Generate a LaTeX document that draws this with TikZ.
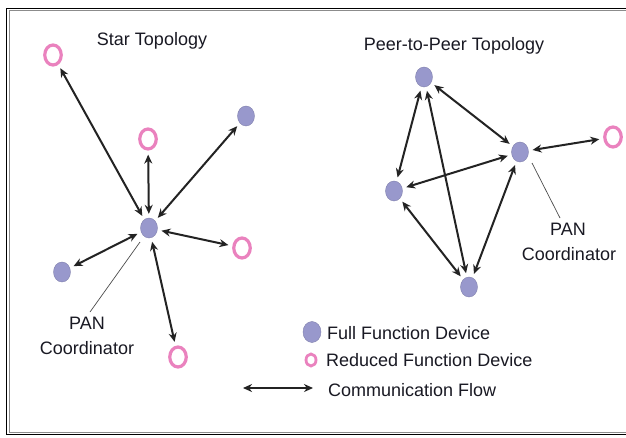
\documentclass[tikz,border=0pt]{standalone}
\usepackage{fontspec}
\setmainfont{Liberation Sans}
\usetikzlibrary{shapes.geometric,arrows.meta}
\definecolor{ffdblue}{RGB}{152,152,204}
\definecolor{rfdpink}{RGB}{234,130,190}
\definecolor{txt}{RGB}{25,25,35}
\definecolor{arr}{RGB}{35,35,35}
\tikzset{
  ffd/.style={ellipse,fill=ffdblue,draw=ffdblue!85!black,line width=0.4pt,minimum width=17pt,minimum height=20pt,inner sep=0pt},
  rfd/.style={ellipse,fill=white,draw=rfdpink,line width=3.2pt,minimum width=16.5pt,minimum height=20pt,inner sep=0pt},
  flow/.style={arr,line width=2pt,{Stealth[length=9pt,width=8pt]}-{Stealth[length=9pt,width=8pt]},shorten <=4pt,shorten >=4pt},
  lbl/.style={text=txt,font=\fontsize{18}{20}\selectfont,inner sep=0pt},
  pan/.style={line width=0.7pt,draw=black!70}
}
\begin{document}
\begin{tikzpicture}[x=1pt,y=-1pt]
\useasboundingbox (0,0) rectangle (626,437);
\fill[white] (0,0) rectangle (626,437);
% frame (right side cut off)
\draw[line width=1.8pt,black] (626,8.5) -- (6.5,8.5) -- (6.5,434.5) -- (626,434.5);
\draw[line width=0.6pt,black!45] (626,10.6) -- (8.9,10.6) -- (8.9,432.2) -- (626,432.2);

% ---------- Star topology ----------
\node[lbl] (startitle) at (152,41) {Star Topology};
\node[ffd] (sc) at (149,228) {};
\node[rfd] (s1) at (53,55) {};
\node[rfd] (s2) at (148,139) {};
\node[ffd] (s3) at (246,116) {};
\node[rfd] (s4) at (242,248) {};
\node[ffd] (s5) at (62,272) {};
\node[rfd] (s6) at (178,357) {};
\draw[flow] (sc) -- (s1);
\draw[flow] (sc) -- (s2);
\draw[flow] (sc) -- (s3);
\draw[flow] (sc) -- (s4);
\draw[flow] (sc) -- (s5);
\draw[flow] (sc) -- (s6);
\node[lbl] (pan1a) at (87,323) {PAN};
\node[lbl] (pan1b) at (87,348) {Coordinator};
\coordinate (pl1a) at (140,242);
\coordinate (pl1b) at (90,312);
\draw[pan] (pl1a) -- (pl1b);

% ---------- Peer-to-peer topology ----------
\node[lbl] (p2ptitle) at (454,46) {Peer-to-Peer Topology};
\node[ffd] (pt) at (424,77) {};
\node[ffd] (pr) at (520,152) {};
\node[ffd] (pl) at (394,191) {};
\node[ffd] (pb) at (469,287) {};
\node[rfd] (prfd) at (613,137) {};
\draw[flow] (pt) -- (pr);
\draw[flow] (pt) -- (pl);
\draw[flow] (pt) -- (pb);
\draw[flow] (pl) -- (pr);
\draw[flow] (pl) -- (pb);
\draw[flow] (pr) -- (pb);
\draw[flow] (pr) -- (prfd);
\node[lbl] (pan2a) at (568,229) {PAN};
\node[lbl] (pan2b) at (569,254) {Coordinator};
\coordinate (pl2a) at (532,163);
\coordinate (pl2b) at (560,218);
\draw[pan] (pl2a) -- (pl2b);

% ---------- Legend ----------
\node[ffd,minimum width=18pt,minimum height=21pt] (legffd) at (312,332) {};
\node[rfd,line width=2.8pt,minimum width=10pt,minimum height=12pt] (legrfd) at (311,360) {};
\coordinate (lega) at (243,388);
\coordinate (legb) at (313,388);
\draw[flow,shorten <=0pt,shorten >=0pt] (lega) -- (legb);
\node[lbl,anchor=west] (t1) at (327,333) {Full Function Device};
\node[lbl,anchor=west] (t2) at (326,360) {Reduced Function Device};
\node[lbl,anchor=west] (t3) at (328,390) {Communication Flow};
\end{tikzpicture}
\end{document}
